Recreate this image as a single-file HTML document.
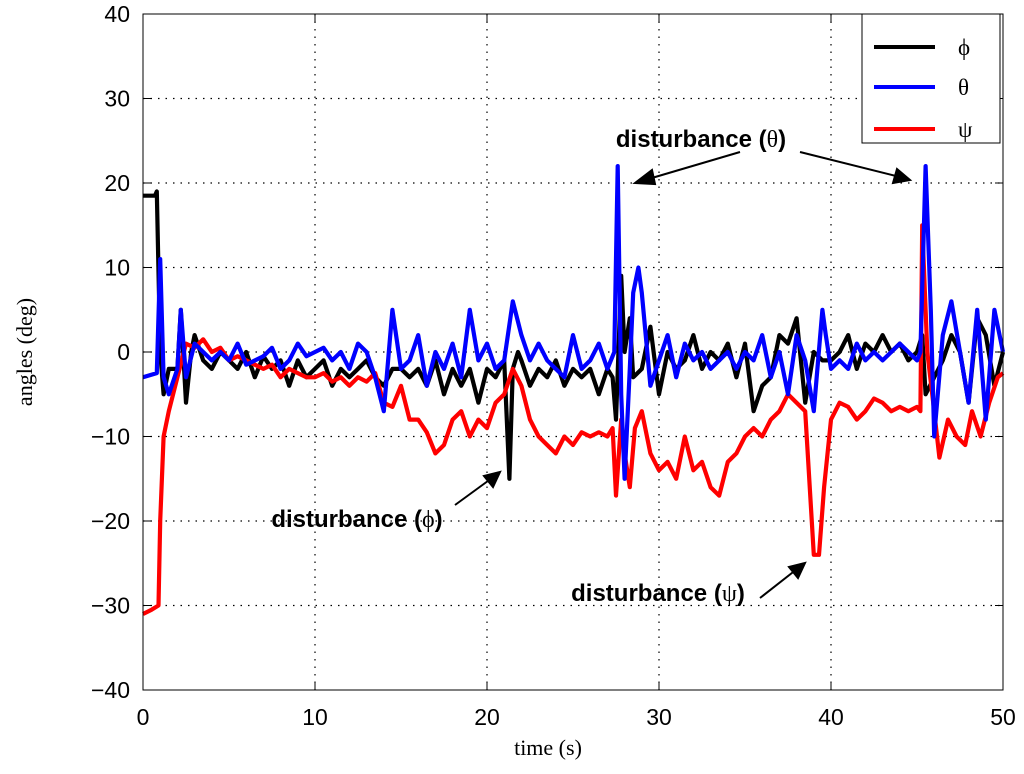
<!DOCTYPE html>
<html><head><meta charset="utf-8"><style>
body{margin:0;background:#fff}
svg text{font-family:"Liberation Sans",sans-serif}
</style></head><body>
<svg width="1024" height="769" viewBox="0 0 1024 769">
<g id="grid"></g>
<g id="series"></g>
<rect x="143" y="14" width="860" height="676" fill="none" stroke="#000" stroke-width="1"/>
<g id="ticks"></g>
<text x="548" y="755" font-size="22" text-anchor="middle" style="font-family:'Liberation Serif',serif">time (s)</text>
<text transform="translate(32,352) rotate(-90)" font-size="22" text-anchor="middle" style="font-family:'Liberation Serif',serif">angles (deg)</text>
<g font-size="24" font-weight="bold">
<text x="701" y="147" text-anchor="middle">disturbance (<tspan font-weight="normal" style="font-family:'Liberation Serif',serif">θ</tspan>)</text>
<text x="357" y="527" text-anchor="middle">disturbance (<tspan font-weight="normal" style="font-family:'Liberation Serif',serif">ϕ</tspan>)</text>
<text x="658" y="601" text-anchor="middle">disturbance (<tspan font-weight="normal" style="font-family:'Liberation Serif',serif">ψ</tspan>)</text>
<g stroke="#000" stroke-width="2" fill="#000">
<line x1="740" y1="152" x2="645" y2="180"/><polygon points="635,183 652,170 655,184"/>
<line x1="800" y1="152" x2="900" y2="177"/><polygon points="910,180 893,183 897,169"/>
<line x1="455" y1="505" x2="492" y2="478"/><polygon points="500,472 493,487 484,476"/>
<line x1="760" y1="598" x2="797" y2="569"/><polygon points="805,563 798,578 789,567"/>
</g></g>
<g>
<rect x="862" y="14" width="138" height="129" fill="#fff" stroke="#000"/>
<line x1="874" y1="47" x2="935" y2="47" stroke="#000" stroke-width="4"/>
<text x="958" y="55" font-size="23" style="font-family:'Liberation Serif',serif">ϕ</text>
<line x1="874" y1="87" x2="935" y2="87" stroke="#0000ff" stroke-width="4"/>
<text x="958" y="95" font-size="23" style="font-family:'Liberation Serif',serif">θ</text>
<line x1="874" y1="129" x2="935" y2="129" stroke="#ff0000" stroke-width="4"/>
<text x="958" y="137" font-size="23" style="font-family:'Liberation Serif',serif">ψ</text>
</g>
</svg>
<script>
const xTicks=[0,10,20,30,40,50];
const yTicks=[-40,-30,-20,-10,0,10,20,30,40];
const psiT=[0,0.5,0.9,1.0,1.2,1.5,2,2.5,3,3.5,4,4.5,5,5.5,6,7,7.5,8,8.5,9,9.5,10,10.5,11,11.5,12,12.5,13,13.5,14,14.5,15,15.5,16,16.5,17,17.5,18,18.5,19,19.5,20,20.5,21,21.5,22,22.5,23,23.5,24,24.5,25,25.5,26,26.5,27,27.3,27.5,27.8,28,28.3,28.6,29,29.5,30,30.5,31,31.5,32,32.5,33,33.5,34,34.5,35,35.5,36,36.5,37,37.5,38,38.5,39,39.3,39.6,40,40.5,41,41.5,42,42.5,43,43.5,44,44.5,45,45.2,45.3,45.6,46,46.3,46.8,47.3,47.8,48.2,48.7,49.2,49.7,50];
const psiV=[-31,-30.5,-30,-20,-10,-7,-3,1,0.5,1.5,0,0.5,-1,-0.5,-1,-2,-1.5,-3,-2,-2.5,-3,-3,-2.5,-3.5,-3,-4,-3,-3.5,-2.5,-6,-6.5,-4,-8,-8,-9.5,-12,-11,-8,-7,-10,-8,-9,-6,-5,-2,-4,-8,-10,-11,-12,-10,-11,-9.5,-10,-9.5,-10,-9,-17,-8,-12,-16,-9,-7,-12,-14,-13,-15,-10,-14,-13,-16,-17,-13,-12,-10,-9,-10,-8,-7,-5,-6,-7,-24,-24,-16,-8,-6,-6.5,-8,-7,-5.5,-6,-7,-6.5,-7,-6.5,-7,15,0,-7,-12.5,-8,-10,-11,-7,-10,-6,-3,-2.5];
const thetaT=[0,0.8,1,1.2,1.5,2,2.2,2.5,3,3.5,4,4.5,5,5.5,6,7,7.5,8,8.5,9,9.5,10,10.5,11,11.5,12,12.5,13,13.5,14,14.5,15,15.5,16,16.5,17,17.5,18,18.5,19,19.5,20,20.5,21,21.5,22,22.5,23,23.5,24,24.5,25,25.5,26,26.5,27,27.4,27.6,27.8,28,28.3,28.5,28.8,29,29.5,30,30.5,31,31.5,32,32.5,33,33.5,34,34.5,35,35.5,36,36.5,37,37.5,38,38.5,39,39.5,39.7,40,40.5,41,41.5,42,42.5,43,43.5,44,44.5,45,45.2,45.5,45.8,46,46.5,47,47.5,48,48.5,49,49.5,50];
const thetaV=[-3,-2.5,11,-3,-5,-2,5,-3,1,0,-1,0,-1,1,-1.5,-0.5,0.5,-2,-1,1,-0.5,0,0.5,-1,0,-2,1,0,-3,-7,5,-2,-1,2,-4,0,-2,1,-3,5,-1,1,-2,-1,6,2,-1,1,-1,-2,-3,2,-2,-1,1,-2,0,22,-5,-15,-2,7,10,7,-4,-1,2,-3,1,-1,0,-2,-1,0,-2,0,-1,2,-3,0,-5,2,-1,-7,5,2,-2,-1,-2,1,-1,0,-1,0,1,0,-1,0,22,5,-10,2,6,0,-6,5,-8,5,0];
const phiT=[0,0.7,0.8,1,1.2,1.5,2,2.2,2.5,2.8,3,3.5,4,4.5,5,5.5,6,6.5,7,7.5,8,8.5,9,9.5,10,10.5,11,11.5,12,12.5,13,13.5,14,14.5,15,15.5,16,16.5,17,17.5,18,18.5,19,19.5,20,20.5,21,21.3,21.5,21.8,22,22.5,23,23.5,24,24.5,25,25.5,26,26.5,27,27.3,27.5,27.8,28,28.3,28.5,29,29.5,30,30.5,31,31.5,32,32.5,33,33.5,34,34.5,35,35.5,36,36.5,37,37.5,38,38.5,39,39.5,40,40.5,41,41.5,42,42.5,43,43.5,44,44.5,45,45.3,45.5,46,46.5,47,47.5,48,48.5,49,49.5,50];
const phiV=[18.5,18.5,19,0,-5,-2,-2,5,-6,0,2,-1,-2,0,-1,-2,0,-3,-0.5,-2,-1,-4,-1,-3,-2,-1,-4,-2,-3,-2,-1,-3,-4,-2,-2,-3,-2,-4,-1,-5,-2,-4,-2,-6,-2,-3,-1,-15,-2,0,-1,-4,-2,-3,-1,-4,-2,-3,-2,-5,-2,-3,-8,9,0,4,-3,-2,3,-5,0,-2,-1,2,-2,0,-1,1,-3,1,-7,-4,-3,2,1,4,-6,0,-1,-1,0,2,-2,1,0,2,0,1,-1,0,2,-5,-3,-1,2,0,-6,4,2,-4,0];
const X0=143,X1=1003,Y0=690,Y1=14;
const xs=t=>X0+(t-0)/(50-0)*(X1-X0);
const ys=v=>Y0-(v+40)/80*(Y0-Y1);
const NS="http://www.w3.org/2000/svg";
const grid=document.getElementById('grid'),ticks=document.getElementById('ticks'),series=document.getElementById('series');
function mk(tag,attrs,parent){const e=document.createElementNS(NS,tag);for(const k in attrs)e.setAttribute(k,attrs[k]);parent.appendChild(e);return e;}
xTicks.forEach(t=>{const x=xs(t);
 if(t>0&&t<50){const g=mk('line',{x1:x,x2:x,y1:Y1,y2:Y0,stroke:'#000','stroke-width':1.2,'stroke-dasharray':'1.5,6'},grid);
 
 }
 mk('line',{x1:x,x2:x,y1:Y0,y2:Y0-8,stroke:'#000'},ticks);mk('line',{x1:x,x2:x,y1:Y1,y2:Y1+8,stroke:'#000'},ticks);
 const tx=mk('text',{x:x,y:Y0+35,'font-size':23,'text-anchor':'middle'},ticks);tx.textContent=t;
 
 });
yTicks.forEach(v=>{const y=ys(v);
 if(v>-40&&v<40){const g=mk('line',{x1:X0,x2:X1,y1:y,y2:y,stroke:'#000','stroke-width':1.2,'stroke-dasharray':'1.5,6'},grid);
 
 }
 mk('line',{x1:X0,x2:X0+8,y1:y,y2:y,stroke:'#000'},ticks);mk('line',{x1:X1,x2:X1-8,y1:y,y2:y,stroke:'#000'},ticks);
 const tx=mk('text',{x:X0-13,y:y+8,'font-size':23,'text-anchor':'end'},ticks);tx.textContent=(v<0?'\u2212':'')+Math.abs(v);
 
 });
function line(T,V,color,name){const d=T.map((t,i)=>(i?'L':'M')+xs(t).toFixed(1)+','+ys(V[i]).toFixed(1)).join('');
 const p=mk('path',{d:d,fill:'none',stroke:color,'stroke-width':4.2,'stroke-linejoin':'round'},series);
 
 }
line(phiT,phiV,'#000','phi-line');
line(psiT,psiV,'#ff0000','psi-line');
line(thetaT,thetaV,'#0000ff','theta-line');
</script>
</body></html>
